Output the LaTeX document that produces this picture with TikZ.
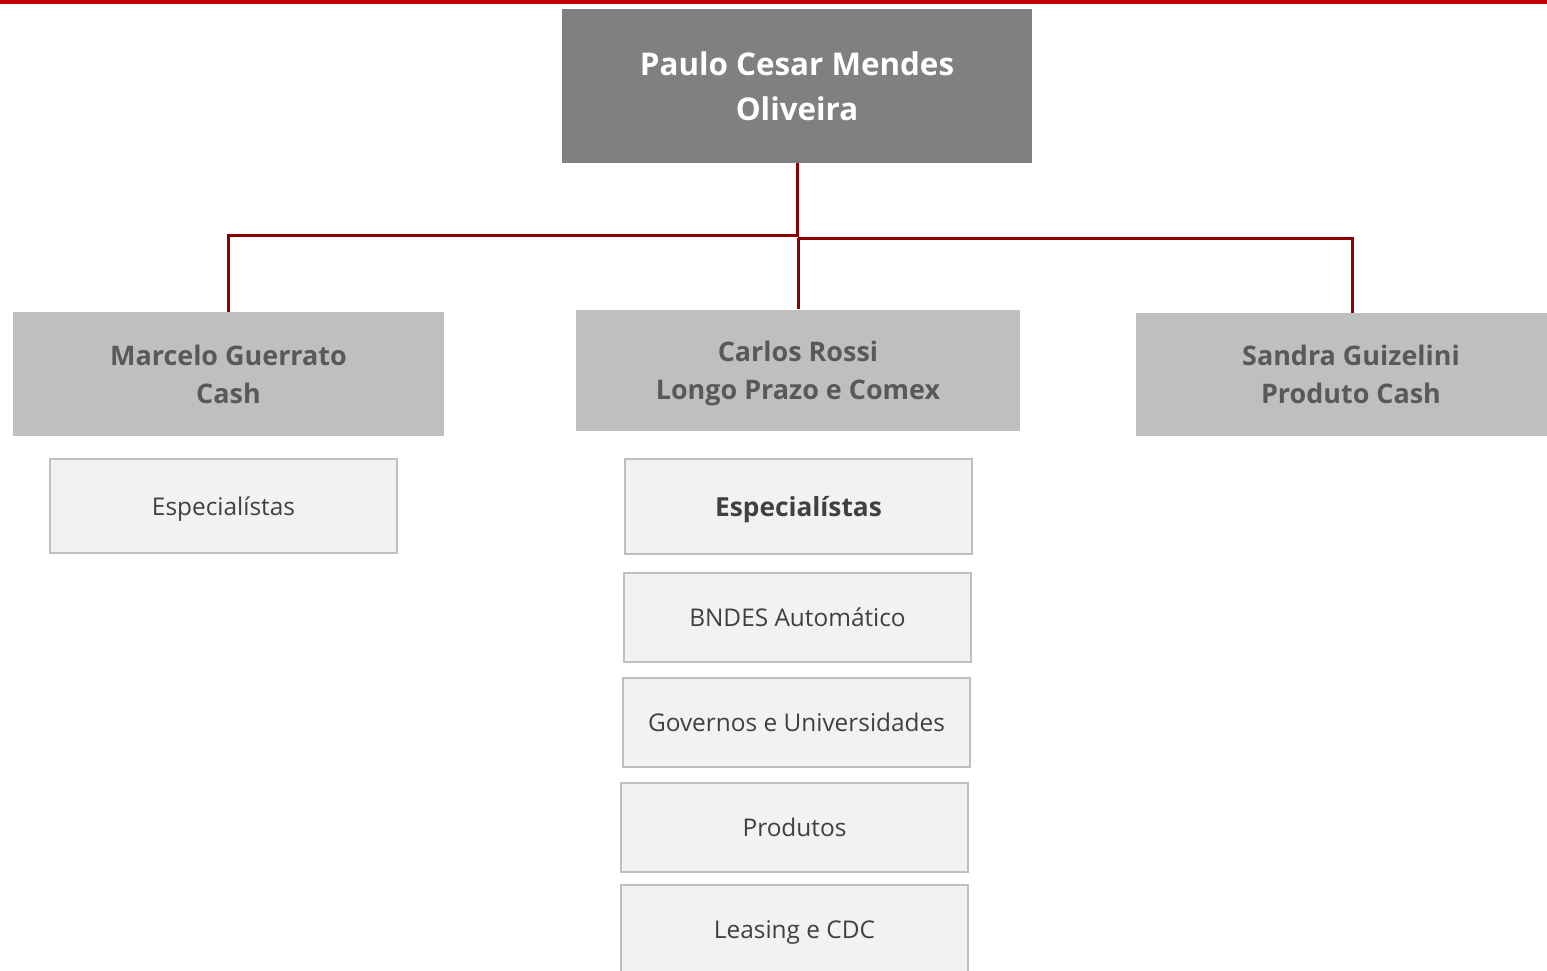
\documentclass[tikz,border=0pt]{standalone}
\usepackage{fontspec}
\setmainfont{Open Sans}
\usetikzlibrary{calc}
\definecolor{topred}{HTML}{C00000}
\definecolor{connred}{HTML}{8B0000}
\definecolor{darkbox}{HTML}{808080}
\definecolor{midbox}{HTML}{BFBFBF}
\definecolor{lightbox}{HTML}{F2F2F2}
\definecolor{lightborder}{HTML}{BFBFBF}
\definecolor{txtgray}{HTML}{595959}
\definecolor{txtdark}{HTML}{404040}
\begin{document}
\begin{tikzpicture}[x=0.75pt,y=-0.75pt,
  wh/.style 2 args={minimum width=#1*0.75pt, minimum height=#2*0.75pt},
  headbox/.style={fill=darkbox, draw=none, inner sep=0pt, align=center, text=white,
    font=\fontsize{23.5}{33.75}\selectfont\bfseries},
  managerbox/.style={fill=midbox, draw=none, inner sep=0pt, align=center, text=txtgray,
    font=\fontsize{20.2}{28.5}\selectfont\bfseries},
  teambox/.style={fill=lightbox, draw=lightborder, line width=1.5pt, inner sep=0pt, align=center,
    text=txtdark, text depth=0pt, font=\fontsize{18.3}{22}\selectfont},
  teamboldbox/.style={teambox, font=\fontsize{19.7}{24}\selectfont\bfseries},
  conn/.style={draw=connred, line width=2.25pt}
]
\useasboundingbox (0,0) rectangle (1547,971);
\clip (0,0) rectangle (1547,971);
\fill[topred] (0,0) rectangle (1547,4);

\node[headbox, wh={470}{154}] (top) at (797,86) {Paulo Cesar Mendes\\Oliveira};

\node[managerbox, wh={431}{124}] (marcelo) at (228.5,374) {Marcelo Guerrato\\Cash};
\node[managerbox, wh={444}{121}, text depth=0pt] (carlos) at (798,370) {Carlos Rossi\\Longo Prazo e Comex};
\node[managerbox, wh={430}{123}] (sandra) at (1351,374.5) {Sandra Guizelini\\Produto Cash};

\node[teambox, wh={347}{94}] (esp1) at (223.5,506) {Especialístas};
\node[teamboldbox, wh={347}{95}] (esp2) at (798.5,506.5) {Especialístas};
\node[teambox, wh={347}{89}] (bndes) at (797.5,617.5) {BNDES Automático};
\node[teambox, wh={347}{89}] (gov) at (796.5,722.5) {Governos e Universidades};
\node[teambox, wh={347}{89}] (prod) at (794.5,827.5) {Produtos};
\node[teambox, wh={347}{89}] (leasing) at (794.5,929.5) {Leasing e CDC};

\coordinate (j1) at (797,235);
\coordinate (j2) at (798,238);
\coordinate (sx) at (1352,238);

\draw[conn] (top.south) -- (j1) -| (marcelo.north);
\draw[conn] (j2) -- (carlos.north);
\draw[conn] (j2) -- (sx) -- (sx |- sandra.north);
\end{tikzpicture}
\end{document}
